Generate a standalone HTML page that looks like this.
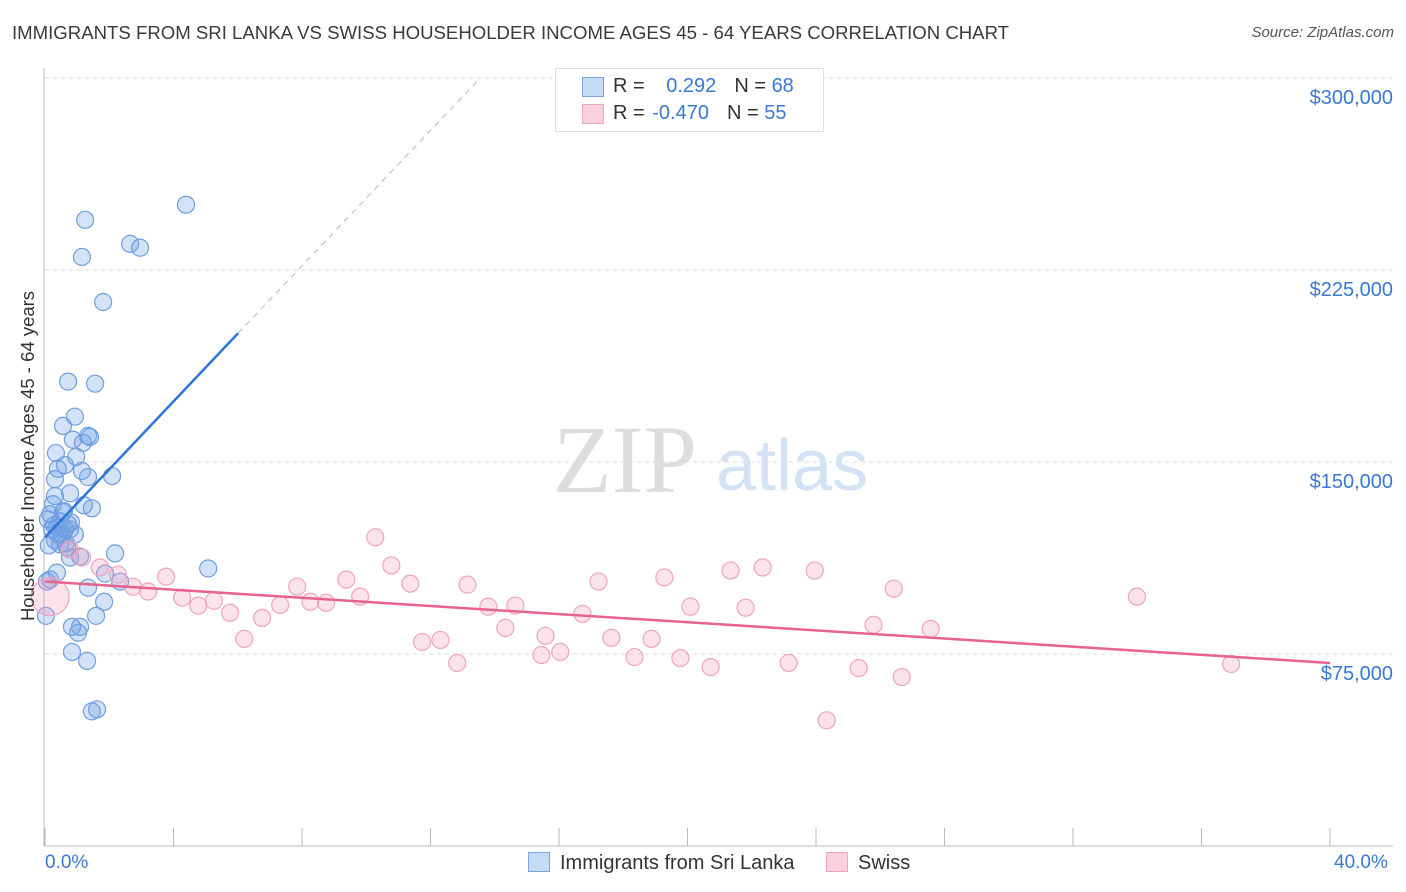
<!DOCTYPE html>
<html><head><meta charset="utf-8"><style>
body{margin:0;background:#fff;font-family:"Liberation Sans",sans-serif;}
#wrap{position:relative;width:1406px;height:892px;overflow:hidden;}
.t{position:absolute;white-space:nowrap;}
</style></head><body>
<div id="wrap">
<div class="t" style="left:12px;top:22px;font-size:18.6px;color:#3a3a3a;">IMMIGRANTS FROM SRI LANKA VS SWISS HOUSEHOLDER INCOME AGES 45 - 64 YEARS CORRELATION CHART</div>
<div class="t" style="right:12px;top:24px;font-size:15px;color:#555;font-style:italic;">Source: ZipAtlas.com</div>
<svg id="svg" width="1406" height="892" style="position:absolute;left:0;top:0"></svg>
</div>
<script>
const xTicksPct=[0,4,8,12,16,20,24,28,32,36,40];
const yTickVals=[75000,150000,225000,300000];
const yTickLabels=["$75,000","$150,000","$225,000","$300,000"];
const blueX=[1.25,4.39,2.65,2.96,1.15,1.81,0.72,1.56,0.93,0.56,0.87,1.34,1.18,1.40,0.34,0.97,0.62,1.15,1.34,2.09,0.31,0.31,0.78,1.21,1.46,0.25,0.16,0.47,0.72,0.37,0.62,0.22,0.78,0.53,0.31,0.47,0.12,2.18,1.09,0.78,0.37,5.08,0.16,0.06,1.87,2.34,1.34,1.84,1.59,0.03,0.84,1.09,1.03,0.84,1.31,1.62,1.46,0.65,0.40,0.93,0.56,0.69,0.09,0.40,0.59,0.81,0.28];
const blueY=[244.6,250.5,235.2,233.7,230.1,212.5,181.4,180.6,167.7,164.1,158.7,160.2,157.5,159.8,153.5,152.0,148.8,146.5,144.1,144.5,143.3,136.7,137.8,133.1,131.9,133.5,129.6,126.8,125.7,124.5,123.7,123.7,123.7,121.7,119.4,117.8,117.4,114.3,113.1,112.7,106.8,108.4,104.1,103.3,106.4,103.3,100.9,95.4,89.9,89.9,85.6,85.6,83.3,75.8,72.3,53.4,52.6,118.2,121.7,121.7,130.4,116.6,127.6,147.3,130.8,126.4,125.3];
const pinkX=[0.16,0.78,1.15,1.71,2.27,2.74,3.21,3.77,4.27,4.77,5.26,5.76,6.20,6.76,7.32,7.85,8.26,8.75,9.38,9.81,10.28,10.78,11.37,11.74,12.31,12.83,13.15,13.80,14.33,14.64,15.45,15.58,16.04,16.73,17.23,17.63,18.35,18.88,19.28,19.78,20.09,20.72,21.34,21.81,22.34,23.15,23.96,24.33,25.33,25.79,26.42,26.67,27.57,33.99,36.92];
const pinkY=[97.4,115.8,112.7,108.8,106.0,101.3,99.4,105.2,97.0,93.9,95.8,91.1,80.9,89.1,94.2,101.3,95.4,95.0,104.1,97.4,120.6,109.6,102.5,79.7,80.5,71.5,102.1,93.5,85.2,93.9,74.6,82.1,75.8,90.7,103.3,81.3,73.8,80.9,104.9,73.4,93.5,69.9,107.6,93.1,108.8,71.5,107.6,49.1,69.5,86.4,100.5,66.0,84.8,97.4,71.1];
const blueTrend=[0,120.6,6.01,200.3,13.55,300];
const pinkTrend=[0,103.3,40,71.5];

const X0=45,X1=1330,Y0=846,YK=576/225;
const sx=p=>X0+(X1-X0)*p/40;
const sy=k=>Y0-k*YK;
const svg=document.getElementById('svg');
const NS='http://www.w3.org/2000/svg';
function mk(t,a){const e=document.createElementNS(NS,t);for(const k in a)e.setAttribute(k,a[k]);svg.appendChild(e);return e;}
yTickVals.forEach((v,i)=>{
 const y=sy(v/1000);
 const g=mk('line',{x1:45,x2:1393,y1:y,y2:y,stroke:'#ddd','stroke-dasharray':'4,4'});
 
 
 const t=mk('text',{x:1393,y:y+26,'text-anchor':'end','font-size':20,fill:'#3a78d4','font-family':'Liberation Sans, sans-serif'});
 t.textContent=yTickLabels[i];
 
 
});
const ax=mk('line',{x1:44,x2:44,y1:68,y2:846,stroke:'#bbb'});


const bx=mk('line',{x1:44,x2:1393,y1:846,y2:846,stroke:'#bbb'});


xTicksPct.forEach(p=>{
 const tk=mk('line',{x1:sx(p),x2:sx(p),y1:828,y2:846,stroke:'#bbb'});
 
 
});
const wm=mk('text',{x:553,y:492,'font-size':96,fill:'#ddd','font-family':'Liberation Serif, serif'});
wm.textContent='ZIP';


const wm2=mk('text',{x:716,y:490,'font-size':72,fill:'#d3e2f5','font-family':'Liberation Sans, sans-serif'});
wm2.textContent='atlas';


blueX.forEach((x,i)=>{
 const c=mk('circle',{cx:sx(x),cy:sy(blueY[i]),r:8.5,fill:'rgba(110,160,230,0.3)',stroke:'#6e9ee0','stroke-width':1.2});
 
 
});
pinkX.forEach((x,i)=>{
 const c=mk('circle',{cx:sx(x),cy:sy(pinkY[i]),r:i===0?19:8.5,fill:'rgba(245,160,190,0.3)',stroke:'#f0a3bd','stroke-width':1.2});
 
 
});
const bl=mk('line',{x1:sx(blueTrend[0]),y1:sy(blueTrend[1]),x2:sx(blueTrend[2]),y2:sy(blueTrend[3]),stroke:'#2f74d8','stroke-width':2.5});


const bd=mk('line',{x1:sx(blueTrend[2]),y1:sy(blueTrend[3]),x2:sx(blueTrend[4]),y2:sy(blueTrend[5]),stroke:'#9bbbe8','stroke-width':1,'stroke-dasharray':'6,5'});


const pl=mk('line',{x1:sx(pinkTrend[0]),y1:sy(pinkTrend[1]),x2:sx(pinkTrend[2]),y2:sy(pinkTrend[3]),stroke:'#e8628e','stroke-width':2.5});


</script>
<div class="t" style="left:28px;top:456px;font-size:18.5px;color:#333;transform:translate(-50%,-50%) rotate(-90deg);">Householder Income Ages 45 - 64 years</div>
<div class="t" style="left:45px;top:852px;font-size:19px;color:#3a78d4;">0.0%</div>
<div class="t" style="left:1334px;top:852px;font-size:19px;color:#3a78d4;">40.0%</div>
<div style="position:absolute;left:555px;top:68px;width:267px;height:62px;border:1px solid #ddd;background:#fff;font-size:20px;">
 <div style="position:absolute;left:26px;top:8px;width:20px;height:18px;background:#c5daf5;border:1px solid #7aa5e0;"></div>
 <div class="t" style="left:57px;top:6px;color:#333;">R = <span style="color:#3a78d4;margin-left:16px;">0.292</span><span style="margin-left:18px;">N = </span><span style="color:#3a78d4">68</span></div>
 <div style="position:absolute;left:26px;top:35px;width:20px;height:18px;background:#f9d0dd;border:1px solid #f0a3bd;"></div>
 <div class="t" style="left:57px;top:33px;color:#333;">R = <span style="color:#3a78d4;margin-left:2px;">-0.470</span><span style="margin-left:18px;">N = </span><span style="color:#3a78d4">55</span></div>
</div>
<div style="position:absolute;left:528px;top:852px;font-size:20px;color:#333;">
 <span style="display:inline-block;width:20px;height:18px;background:#c5daf5;border:1px solid #7aa5e0;vertical-align:-3px;margin-right:10px;"></span>Immigrants from Sri Lanka</div>
<div style="position:absolute;left:826px;top:852px;font-size:20px;color:#333;">
 <span style="display:inline-block;width:20px;height:18px;background:#f9d0dd;border:1px solid #f0a3bd;vertical-align:-3px;margin-right:10px;"></span>Swiss</div>
</body></html>
